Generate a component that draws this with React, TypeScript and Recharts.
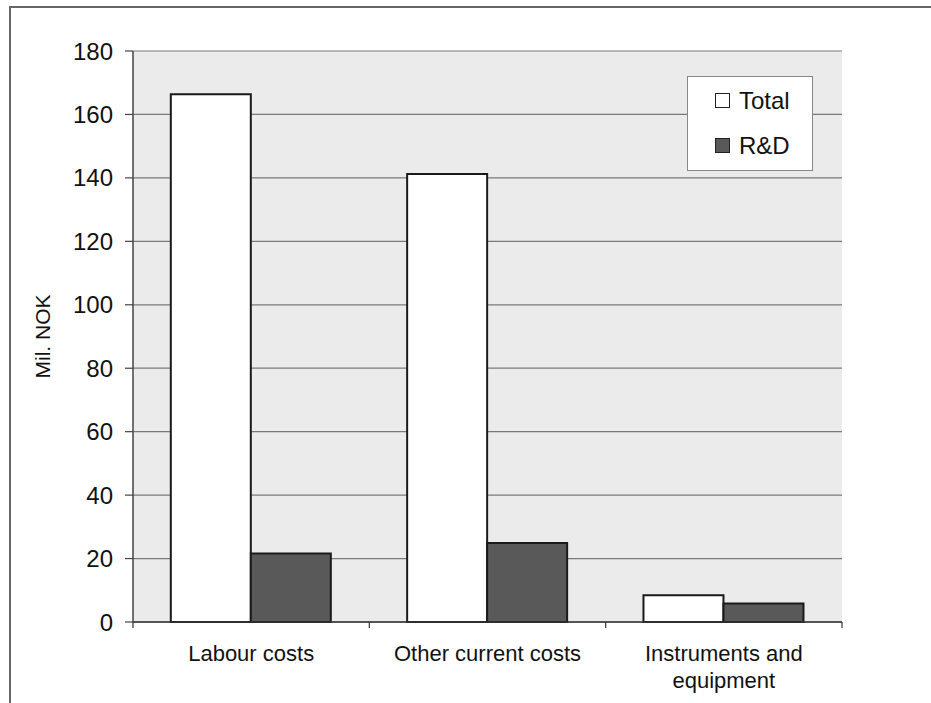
import React from "react";
import {
  BarChart,
  Bar,
  XAxis,
  YAxis,
  CartesianGrid,
  Legend,
} from "recharts";

// Cost categories and their values, in millions of NOK
const categories = ["Labour costs", "Other current costs", "Instruments and equipment"];
const totalValues = [166.4, 141.2, 8.4];
const rdValues = [21.6, 24.9, 5.8];
const seriesNames = ["Total", "R&D"];
const yTicks = [0, 20, 40, 60, 80, 100, 120, 140, 160, 180];

const data = categories.map((name, i) => ({
  name,
  total: totalValues[i],
  rd: rdValues[i],
}));

const FONT = "'Liberation Sans', Arial, Helvetica, sans-serif";
const WIDTH = 931;
const HEIGHT = 703;
const MARGIN = { top: 51, right: 89, left: 0, bottom: 21 };
const Y_AXIS_W = 133;
const PLOT_W = WIDTH - MARGIN.right - MARGIN.left - Y_AXIS_W;
const BAND = PLOT_W / categories.length;
const LABEL_SIZE = 22;
const LABEL_MAX_W = 200;

// greedy word wrap, measured with a canvas
let measureCtx: CanvasRenderingContext2D | null = null;
function wrapLabel(text: string): string[] {
  if (!measureCtx) {
    measureCtx = document.createElement("canvas").getContext("2d");
  }
  if (!measureCtx) return [text];
  measureCtx.font = `${LABEL_SIZE}px ${FONT}`;
  const lines: string[] = [];
  let current = "";
  for (const word of text.split(" ")) {
    const candidate = current ? `${current} ${word}` : word;
    if (current && measureCtx.measureText(candidate).width > LABEL_MAX_W) {
      lines.push(current);
      current = word;
    } else {
      current = candidate;
    }
  }
  if (current) lines.push(current);
  return lines;
}

const CategoryTick = (props: any) => {
  const { x, y, payload, index } = props;
  const left = x - BAND / 2;
  const right = x + BAND / 2;
  const lines = wrapLabel(String(payload.value));
  return (
    <g>
      <line x1={left} x2={left} y1={y} y2={y + 6} stroke="#333" strokeWidth={1.2} />
      {index === categories.length - 1 && (
        <line x1={right} x2={right} y1={y} y2={y + 6} stroke="#333" strokeWidth={1.2} />
      )}
      <text
        x={x}
        y={y + 39}
        textAnchor="middle"
        fontSize={LABEL_SIZE}
        fontFamily={FONT}
        fill="#111"
      >
        {lines.map((line, i) => (
          <tspan key={i} x={x} dy={i === 0 ? 0 : 27}>
            {line}
          </tspan>
        ))}
      </text>
    </g>
  );
};

const LegendBox = (props: any) => {
  const items = [...(props.payload || [])].sort(
    (a: any, b: any) => seriesNames.indexOf(a.value) - seriesNames.indexOf(b.value)
  );
  return (
    <div
      style={{
        boxSizing: "border-box",
        width: "100%",
        height: "100%",
        background: "#fff",
        border: "1.5px solid #888",
        paddingTop: 1,
        fontFamily: FONT,
        fontSize: 24,
        color: "#111",
      }}
    >
      {items.map((entry: any) => (
        <div
          key={entry.value}
          style={{ display: "flex", alignItems: "center", height: 45, paddingLeft: 27 }}
        >
          <span
            style={{
              display: "inline-block",
              width: 13,
              height: 13,
              background: entry.payload?.fill ?? entry.color,
              border: "1.5px solid #222",
              marginRight: 9,
            }}
          />
          <span>{entry.value}</span>
        </div>
      ))}
    </div>
  );
};

export default function App() {
  return (
    <div style={{ position: "absolute", left: 0, top: 0, width: WIDTH, height: HEIGHT, background: "#fff" }}>
      {/* outer frame, top and left edges */}
      <div style={{ position: "absolute", left: 9, top: 6, width: WIDTH - 9, height: 1.5, background: "#666" }} />
      <div style={{ position: "absolute", left: 9, top: 6, width: 1.5, height: HEIGHT - 6, background: "#666" }} />
      <div style={{ position: "absolute", left: 0, top: 0 }}>
        <BarChart
          width={WIDTH}
          height={HEIGHT}
          data={data}
          margin={MARGIN}
          barCategoryGap="16%"
          barGap={0}
        >
          <CartesianGrid vertical={false} stroke="#7a7a7a" strokeWidth={1.2} fill="#ebebeb" />
          <XAxis
            dataKey="name"
            height={60}
            tickSize={0}
            tickMargin={0}
            interval={0}
            tick={<CategoryTick />}
            axisLine={{ stroke: "#333", strokeWidth: 1.5 }}
          />
          <YAxis
            width={Y_AXIS_W}
            domain={[0, 180]}
            ticks={yTicks}
            interval={0}
            tickSize={8}
            tickMargin={12}
            tickLine={{ stroke: "#444", strokeWidth: 1.2 }}
            axisLine={{ stroke: "#444", strokeWidth: 1.5 }}
            tick={{ fontSize: 24, fontFamily: FONT, fill: "#111" }}
            label={{
              value: "Mil. NOK",
              angle: -90,
              position: "insideLeft",
              offset: 43,
              style: { fontSize: 21, fontFamily: FONT, fill: "#111", textAnchor: "middle" },
            }}
          />
          <YAxis
            yAxisId="right"
            orientation="right"
            width={0}
            domain={[0, 180]}
            tick={false}
            tickLine={false}
            axisLine={{ stroke: "#888", strokeWidth: 1.5 }}
          />
          <Legend
            layout="horizontal"
            verticalAlign="middle"
            align="center"
            content={<LegendBox />}
            wrapperStyle={{ position: "absolute", left: 687, top: 76, width: 126, height: 95 }}
          />
          <Bar
            dataKey="total"
            name="Total"
            fill="#ffffff"
            stroke="#1a1a1a"
            strokeWidth={2}
            isAnimationActive={false}
          />
          <Bar
            dataKey="rd"
            name="R&D"
            fill="#595959"
            stroke="#1a1a1a"
            strokeWidth={2}
            isAnimationActive={false}
          />
        </BarChart>
      </div>
    </div>
  );
}
